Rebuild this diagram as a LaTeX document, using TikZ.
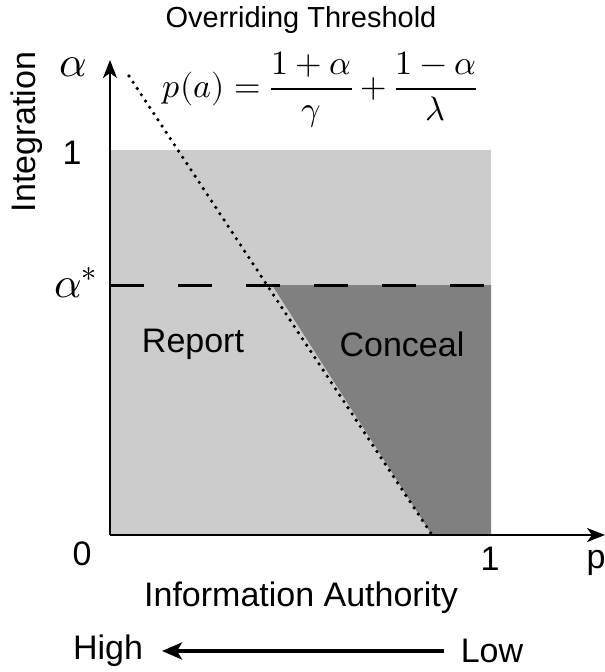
\documentclass[tikz,border=0pt]{standalone}
\usepackage{unicode-math}
\setmainfont{Liberation Sans}
\setmathfont{Latin Modern Math}
\usetikzlibrary{arrows.meta}
\begin{document}
\begin{tikzpicture}[x=1pt,y=-1pt,
  lbl/.style={inner sep=0pt,font=\fontsize{34}{38}\selectfont},
  mlbl/.style={inner sep=0pt,font=\fontsize{34}{38}\selectfont},
  biglbl/.style={inner sep=0pt,font=\fontsize{43}{48}\selectfont},
  axis/.style={line width=2.5pt,-{Stealth[length=18pt,width=14pt,inset=5pt]}},
]
\useasboundingbox (0,0) rectangle (605,672);
% regions
\fill[black!20] (110,150) rectangle (491,535);
\fill[black!50] (272,285) -- (491,285) -- (491,535) -- (432,535) -- cycle;
% dashed threshold
\draw[line width=3pt,dash pattern=on 34pt off 34pt] (110,285) -- (491,285);
% dotted line
\coordinate (d1) at (129,76);
\coordinate (d2) at (432,535);
\draw[line width=3.6pt,dash pattern=on 0pt off 7.5pt,line cap=round] (d1) -- (d2);
% axes
\coordinate (O) at (110,535);
\coordinate (Ytop) at (110,60);
\coordinate (Xend) at (605,535);
\draw[axis] (O) -- (Ytop);
\draw[axis] (O) -- (Xend);
% labels
\node[lbl,font=\fontsize{29}{34}\selectfont] (title) at (301,20) {Overriding Threshold};
\node[mlbl] (formula) at (320,90) {$\displaystyle p(a)=\frac{1+\alpha}{\gamma}+\frac{1-\alpha}{\lambda}$};
\node[biglbl] (alpha) at (73,67) {$\alpha$};
\node[lbl] (one) at (72,153) {1};
\node[biglbl] (astar) at (76,283) {$\alpha^*$};
\node[lbl] (zero) at (82,554) {0};
\node[lbl] (onex) at (490,559) {1};
\node[lbl] (p) at (596,563) {p};
\node[lbl,rotate=90] (integ) at (27,132) {Integration};
\node[lbl] (info) at (301,598) {Information Authority};
\node[lbl] (report) at (193,344) {Report};
\node[lbl] (conceal) at (402,344) {Conceal};
\node[lbl] (high) at (108,651) {High};
\node[lbl] (low) at (492,651) {Low};
\coordinate (lowend) at (444,651);
\coordinate (hightip) at (162,651);
\draw[line width=3.5pt,-{Stealth[length=20pt,width=17pt,inset=5pt]}] (lowend) -- (hightip);
\end{tikzpicture}
\end{document}
